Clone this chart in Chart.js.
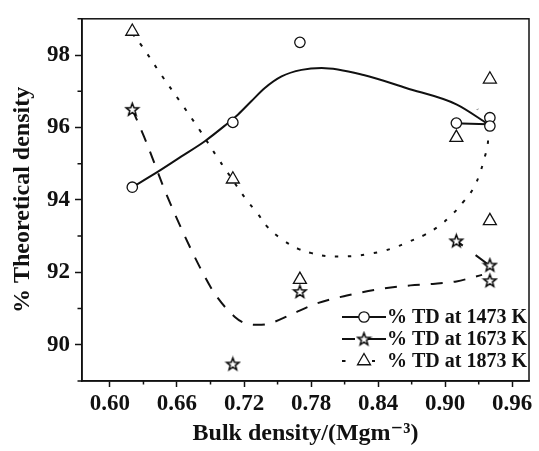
<!DOCTYPE html>
<html>
<head>
<meta charset="utf-8">
<script src="https://cdn.jsdelivr.net/npm/chart.js@4.4.1/dist/chart.umd.min.js"></script>
<style>
  html, body { margin: 0; padding: 0; background: #fff; }
</style>
</head>
<body>
<canvas id="densityChart" width="539" height="451"></canvas>
<script>
// measured points: bulk density (Mg/m3) vs % theoretical density
const bulk1473 = [0.62, 0.71, 0.77, 0.91, 0.94, 0.94];
const td1473 = [94.35, 96.14, 98.35, 96.12, 96.27, 96.04];
const bulk1673 = [0.62, 0.71, 0.77, 0.91, 0.94, 0.94];
const td1673 = [96.5, 89.47, 91.47, 92.87, 92.2, 91.77];
const bulk1873 = [0.62, 0.71, 0.77, 0.91, 0.94, 0.94];
const td1873 = [98.65, 94.57, 91.8, 95.72, 97.33, 93.42];

// fitted trend curves
const fitX1473 = [0.62, 0.643, 0.664, 0.6849, 0.7028, 0.7147, 0.7267, 0.7386, 0.7536, 0.7715, 0.7894, 0.827, 0.865, 0.91, 0.938];
const fitY1473 = [94.35, 94.78, 95.2, 95.62, 96.05, 96.36, 96.73, 97.09, 97.41, 97.59, 97.64, 97.45, 97.09, 96.64, 96.1];
const backX1473 = [0.938, 0.915];
const backY1473 = [96.09, 96.11];

const fitX1673 = [0.62, 0.6326, 0.649, 0.667, 0.682, 0.6938, 0.7118, 0.7222, 0.7326, 0.743, 0.761, 0.785, 0.812, 0.842, 0.869, 0.889, 0.91, 0.933];
const fitY1673 = [96.5, 95.59, 94.27, 93.0, 92.05, 91.41, 90.77, 90.58, 90.55, 90.59, 90.82, 91.14, 91.36, 91.54, 91.64, 91.68, 91.75, 91.93];
const tailX1673 = [0.91, 0.94];
const tailY1673 = [92.87, 92.18];

const fitX1873 = [0.62, 0.629, 0.646, 0.6626, 0.6798, 0.696, 0.7043, 0.7222, 0.7317, 0.7416, 0.755, 0.7685, 0.7805, 0.794, 0.806, 0.818, 0.83, 0.8447, 0.8567, 0.867, 0.882, 0.894, 0.906, 0.9164, 0.9253, 0.931, 0.935, 0.9379, 0.9385, 0.938, 0.929];
const fitY1873 = [98.6, 98.23, 97.45, 96.72, 95.95, 95.18, 94.8, 94.0, 93.64, 93.23, 92.89, 92.65, 92.53, 92.45, 92.44, 92.45, 92.5, 92.59, 92.71, 92.84, 93.04, 93.27, 93.59, 93.95, 94.32, 94.73, 95.14, 95.5, 95.86, 96.2, 96.5];

const xTicks = [0.60, 0.66, 0.72, 0.78, 0.84, 0.90, 0.96];
const xMinorTicks = [0.63, 0.69, 0.75, 0.81, 0.87, 0.93];
const yTicks = [90, 92, 94, 96, 98];
const yMinorTicks = [89, 91, 93, 95, 97, 99];
const seriesLabels = ['% TD at 1473 K', '% TD at 1673 K', '% TD at 1873 K'];

const SERIF = "'Liberation Serif', 'DejaVu Serif', serif";
const INK = '#111';

const toXY = (xs, ys) => xs.map((x, i) => ({ x: x, y: ys[i] }));

// hollow five-pointed star used as marker
function makeStar(r) {
    const size = Math.ceil(r * 2 + 4);
    const c = document.createElement('canvas');
    c.width = size;
    c.height = size;
    const g = c.getContext('2d');
    const cx = size / 2, cy = size / 2 + 0.5;
    g.beginPath();
    for (let i = 0; i < 10; i++) {
        const rad = i % 2 === 0 ? r : r * 0.42;
        const a = -Math.PI / 2 + i * Math.PI / 5;
        g.lineTo(cx + rad * Math.cos(a), cy + rad * Math.sin(a));
    }
    g.closePath();
    g.fillStyle = '#fff';
    g.fill();
    g.lineWidth = 1.5;
    g.strokeStyle = '#000';
    g.stroke();
    return c;
}
const starMarker = makeStar(6.5);

const markerStyles = [
    { pointStyle: 'circle', radius: 5.2, borderWidth: 1.3, rotation: 0 },
    { pointStyle: starMarker, radius: 7, borderWidth: 1, rotation: 0 },
    { pointStyle: 'triangle', radius: 7.5, borderWidth: 1.3, rotation: 0 }
];

function pointSet(label, xs, ys, m) {
    return {
        label: label,
        data: toXY(xs, ys),
        showLine: false,
        pointStyle: m.pointStyle,
        pointRadius: m.radius,
        pointBorderWidth: m.borderWidth,
        pointBorderColor: INK,
        pointBackgroundColor: '#fff'
    };
}

// smooth: 'monotone' for curves running left to right, a tension value otherwise
function curveSet(label, xs, ys, dash, smooth) {
    const set = {
        label: label,
        data: toXY(xs, ys),
        borderColor: INK,
        borderWidth: 2,
        borderDash: dash,
        pointRadius: 0,
        fill: false
    };
    if (smooth === 'monotone') {
        set.cubicInterpolationMode = 'monotone';
    } else {
        set.tension = smooth;
    }
    return set;
}

// minor ticks and the closed frame round the plot
const frameTicks = {
    id: 'frameTicks',
    afterDraw(chart) {
        const { ctx, chartArea: a, scales } = chart;
        ctx.save();
        ctx.strokeStyle = INK;
        ctx.lineWidth = 1.5;
        ctx.strokeRect(a.left, a.top, a.right - a.left, a.bottom - a.top);
        ctx.beginPath();
        xMinorTicks.forEach(v => {
            const px = scales.x.getPixelForValue(v);
            ctx.moveTo(px, a.bottom);
            ctx.lineTo(px, a.bottom + 3.5);
        });
        yMinorTicks.forEach(v => {
            const py = scales.y.getPixelForValue(v);
            ctx.moveTo(a.left, py);
            ctx.lineTo(a.left - 4.5, py);
        });
        ctx.stroke();
        ctx.restore();
    }
};

// legend with line-marker-line samples in the lower right corner
const sampleLegend = {
    id: 'sampleLegend',
    afterDraw(chart) {
        const { ctx, chartArea: a } = chart;
        ctx.save();
        ctx.font = 'bold 20px ' + SERIF;
        ctx.textBaseline = 'middle';
        ctx.textAlign = 'right';
        const textRight = a.right - 2;
        const textWidth = Math.max(...seriesLabels.map(t => ctx.measureText(t).width));
        const sEnd = textRight - textWidth - 1;
        const sMid = sEnd - 22;
        const sStart = sEnd - 44;
        const rows = [a.bottom - 64, a.bottom - 42, a.bottom - 20];

        rows.forEach((y, i) => {
            ctx.strokeStyle = INK;
            ctx.lineWidth = 2;
            ctx.beginPath();
            if (i === 0) {
                ctx.moveTo(sStart, y); ctx.lineTo(sEnd, y);
            } else if (i === 1) {
                ctx.moveTo(sStart, y); ctx.lineTo(sMid - 9, y);
                ctx.moveTo(sMid + 4, y); ctx.lineTo(sEnd, y);
            } else {
                ctx.moveTo(sStart, y); ctx.lineTo(sStart + 3.5, y);
                ctx.moveTo(sMid + 8, y); ctx.lineTo(sMid + 11, y);
            }
            ctx.stroke();
            ctx.fillStyle = '#fff';
            ctx.lineWidth = markerStyles[i].borderWidth;
            Chart.helpers.drawPoint(ctx, markerStyles[i], sMid, y);
            ctx.fillStyle = INK;
            ctx.fillText(seriesLabels[i], textRight, y + 1);
        });
        ctx.restore();
    }
};

const datasets = [
    pointSet(seriesLabels[0], bulk1473, td1473, markerStyles[0]),
    pointSet(seriesLabels[1], bulk1673, td1673, markerStyles[1]),
    pointSet(seriesLabels[2], bulk1873, td1873, markerStyles[2]),
    curveSet('fit 1473', fitX1473, fitY1473, [], 'monotone'),
    curveSet('fit 1473 end', backX1473, backY1473, [], 0),
    curveSet('fit 1673', fitX1673, fitY1673, [12, 11], 'monotone'),
    curveSet('fit 1673 end', tailX1673, tailY1673, [8, 16, 20], 0),
    curveSet('fit 1873', fitX1873, fitY1873, [3.5, 9.5], 0.4)
];

new Chart(document.getElementById('densityChart'), {
    type: 'line',
    data: { datasets },
    plugins: [frameTicks, sampleLegend],
    options: {
        responsive: false,
        animation: false,
        layout: { padding: { left: 0, right: 10, top: 14, bottom: 0 } },
        plugins: {
            legend: { display: false },
            tooltip: { enabled: false }
        },
        scales: {
            x: {
                type: 'linear',
                min: 0.575,
                max: 0.975,
                afterBuildTicks: axis => { axis.ticks = xTicks.map(v => ({ value: v })); },
                afterFit: axis => { axis.height = 70; },
                ticks: {
                    callback: v => v.toFixed(2),
                    font: { family: SERIF, size: 23, weight: 'bold' },
                    color: INK,
                    padding: 3,
                    maxRotation: 0
                },
                grid: { drawOnChartArea: false, tickLength: 6, tickWidth: 1.5, tickColor: INK },
                border: { display: true, color: INK, width: 1.5 },
                title: {
                    display: true,
                    text: 'Bulk density/(Mgm\u207B\u00B3)',
                    font: { family: SERIF, size: 24, weight: 'bold' },
                    color: INK,
                    padding: { top: 0, bottom: 3 }
                }
            },
            y: {
                type: 'linear',
                min: 89,
                max: 99,
                afterBuildTicks: axis => { axis.ticks = yTicks.map(v => ({ value: v })); },
                afterFit: axis => { axis.width = 82; },
                ticks: {
                    font: { family: SERIF, size: 23, weight: 'bold' },
                    color: INK,
                    padding: 5
                },
                grid: { drawOnChartArea: false, tickLength: 7, tickWidth: 1.5, tickColor: INK },
                border: { display: true, color: INK, width: 1.5 },
                title: {
                    display: true,
                    text: '% Theoretical density',
                    font: { family: SERIF, size: 24, weight: 'bold' },
                    color: INK,
                    padding: { top: 8, bottom: 0 }
                }
            }
        }
    }
});
</script>
</body>
</html>
